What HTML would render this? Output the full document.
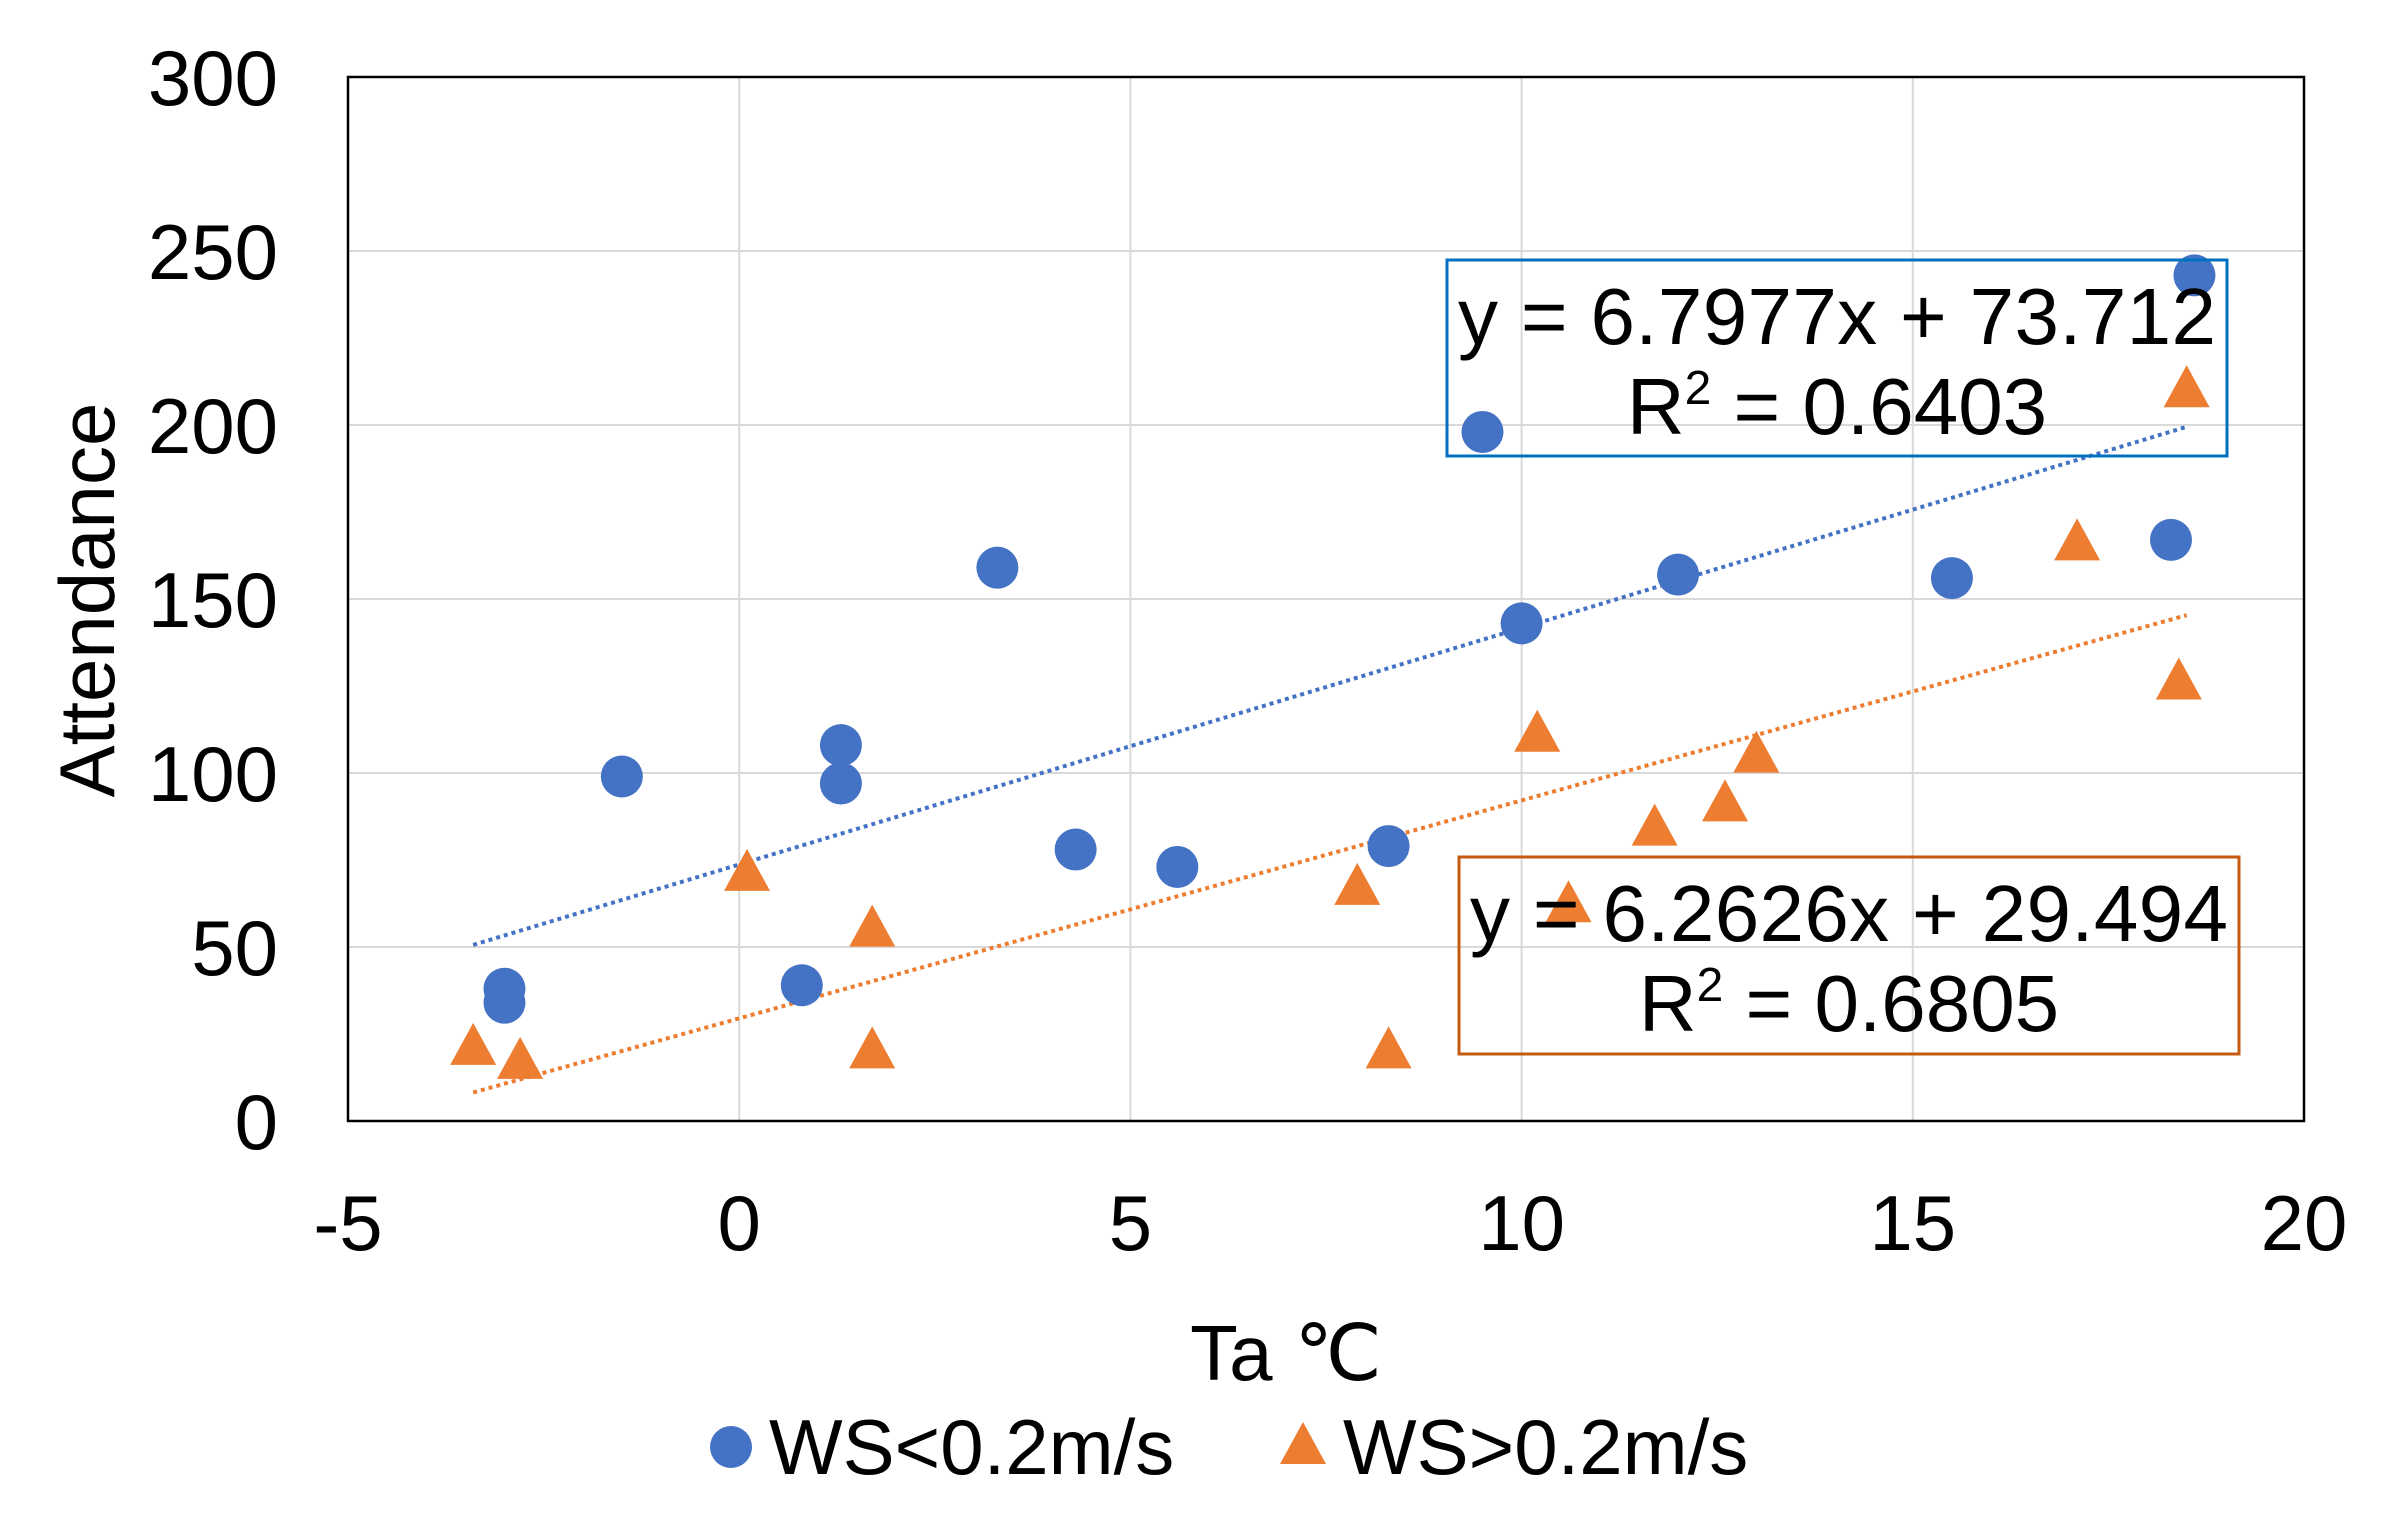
<!DOCTYPE html>
<html><head><meta charset="utf-8"><style>body{margin:0;background:#fff}svg{display:block}text{font-family:"Liberation Sans",sans-serif;fill:#000}</style></head>
<body>
<svg id="chart" width="2400" height="1536" viewBox="0 0 2400 1536" xmlns="http://www.w3.org/2000/svg"></svg>
<script>
const xTicks=[-5,0,5,10,15,20];
const yTicks=[0,50,100,150,200,250,300];
const blueX=[-3,-3,-1.5,0.8,1.3,1.3,3.3,4.3,5.6,8.3,9.5,10,12,15.5,18.3,18.6];
const blueY=[38,34,99,39,108,97,159,78,73,79,198,143,157,156,167,243];
const orangeX=[-3.4,-2.8,0.1,1.7,1.7,7.9,8.3,10.2,10.6,11.7,12.6,13,17.1,18.4,18.5];
const orangeY=[21,17,71,55,20,67,20,111,62,84,91,105,166,126,210];
const blueFit=[6.7977,73.712];
const orangeFit=[6.2626,29.494];
const fitRange=[-3.4,18.5];

const svg=document.getElementById('chart');
const NS='http://www.w3.org/2000/svg';
const X0=348,X1=2304,Y0=1121,Y1=77;
const sx=v=>X0+(v+5)/25*(X1-X0);
const sy=v=>Y0-v/300*(Y0-Y1);
function mk(t,a,txt){const e=document.createElementNS(NS,t);for(const k in a)e.setAttribute(k,a[k]);if(txt!==undefined)e.textContent=txt;svg.appendChild(e);return e;}

xTicks.forEach(t=>{if(t>-5&&t<20){const l=mk('line',{x1:sx(t),x2:sx(t),y1:Y1,y2:Y0,stroke:'#d9d9d9','stroke-width':2});

}
const tx=mk('text',{x:sx(t),y:1250,'font-size':78,'text-anchor':'middle'},t);

});
yTicks.forEach(t=>{if(t>0){const l=mk('line',{x1:X0,x2:X1,y1:sy(t),y2:sy(t),stroke:'#d9d9d9','stroke-width':2});

}
const tx=mk('text',{x:278,y:sy(t)+28,'font-size':78,'text-anchor':'end'},t);

});
const fr=mk('rect',{x:X0,y:Y1,width:X1-X0,height:Y0-Y1,fill:'none',stroke:'#000','stroke-width':2.5});



function trend(f,c,n){const l=mk('line',{x1:sx(fitRange[0]),y1:sy(f[0]*fitRange[0]+f[1]),x2:sx(fitRange[1]),y2:sy(f[0]*fitRange[1]+f[1]),stroke:c,'stroke-width':4,'stroke-dasharray':'4 4'});

}
trend(blueFit,'#4472c4','blue-trendline');
trend(orangeFit,'#ed7d31','orange-trendline');

blueX.forEach((x,i)=>{const c=mk('circle',{cx:sx(x),cy:sy(blueY[i]),r:21,fill:'#4472c4'});

});
orangeX.forEach((x,i)=>{const cx=sx(x),cy=sy(orangeY[i]);const p=mk('polygon',{points:`${cx},${cy-25} ${cx-23},${cy+17} ${cx+23},${cy+17}`,fill:'#ed7d31'});

});

function eqBox(x,y,w,h,c,l1,r2,n){const g=document.createElementNS(NS,'g');svg.appendChild(g);


const r=document.createElementNS(NS,'rect');[['x',x],['y',y],['width',w],['height',h],['fill','none'],['stroke',c],['stroke-width',3]].forEach(a=>r.setAttribute(a[0],a[1]));g.appendChild(r);
const t1=document.createElementNS(NS,'text');t1.setAttribute('x',x+w/2);t1.setAttribute('y',y+84);t1.setAttribute('font-size',80);t1.setAttribute('text-anchor','middle');t1.setAttribute('textLength',w-22);t1.textContent=l1;g.appendChild(t1);
const t2=document.createElementNS(NS,'text');t2.setAttribute('x',x+w/2);t2.setAttribute('y',y+174);t2.setAttribute('font-size',80);t2.setAttribute('text-anchor','middle');t2.innerHTML='R<tspan dy="-30" font-size="48">2</tspan><tspan dy="30"> = '+r2+'</tspan>';g.appendChild(t2);}
eqBox(1447,260,780,196,'#0070c0','y = 6.7977x + 73.712','0.6403','blue-equation');
eqBox(1459,857,780,197,'#c55a11','y = 6.2626x + 29.494','0.6805','orange-equation');
</script>
<svg style="position:absolute;left:0;top:0" width="2400" height="1536">
<text x="1286" y="1380" font-size="78" text-anchor="middle">Ta ℃</text>
<text transform="translate(114,600) rotate(-90)" font-size="78" text-anchor="middle">Attendance</text>
<circle cx="731" cy="1447" r="21" fill="#4472c4"/>
<text x="769" y="1474" font-size="78">WS&lt;0.2m/s</text>
<polygon points="1303,1422 1280,1464 1326,1464" fill="#ed7d31"/>
<text x="1343" y="1474" font-size="78">WS&gt;0.2m/s</text>
</svg>
</body></html>
